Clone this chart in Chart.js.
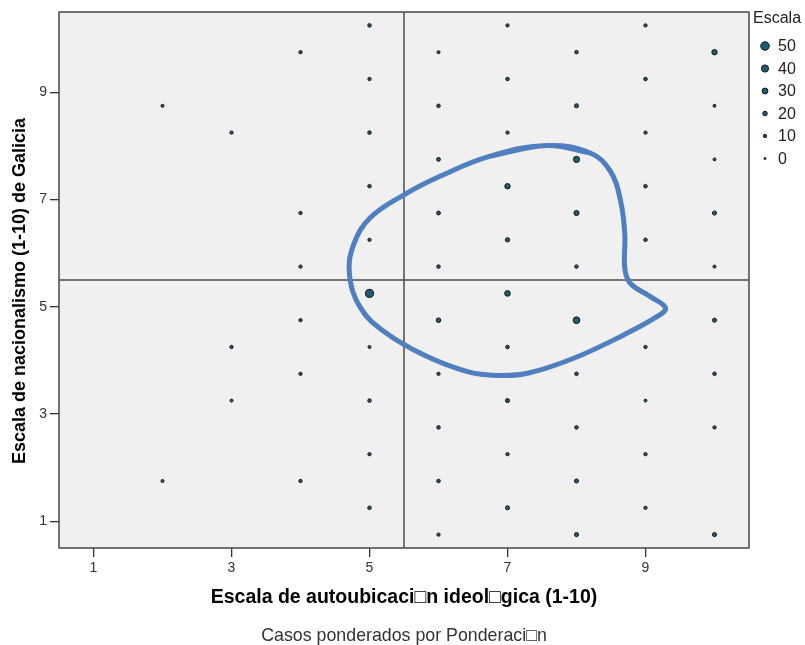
<!DOCTYPE html>
<html>
<head>
<meta charset="utf-8">
<script src="https://cdn.jsdelivr.net/npm/chart.js@4"></script>
<style>
  html, body { margin: 0; padding: 0; background: #ffffff; }
</style>
</head>
<body>
<canvas id="scatterChart" width="805" height="645"></canvas>
<script>
const xTicks = [1, 3, 5, 7, 9];
const yTicks = [1, 3, 5, 7, 9];
const refLineX = 5.5;
const refLineY = 5.5;

// x = autoubicacion ideologica, y = nacionalismo, n = weighted cases (bubble size)
const pointX = [
  2, 2,
  3, 3, 3,
  4, 4, 4, 4, 4, 4,
  5, 5, 5, 5, 5, 5, 5, 5, 5, 5,
  6, 6, 6, 6, 6, 6, 6, 6, 6, 6,
  7, 7, 7, 7, 7, 7, 7, 7, 7, 7,
  8, 8, 8, 8, 8, 8, 8, 8, 8, 8,
  9, 9, 9, 9, 9, 9, 9, 9, 9, 9,
  10, 10, 10, 10, 10, 10, 10, 10, 10
];
const pointY = [
  8.75, 1.75,
  8.25, 4.25, 3.25,
  9.75, 6.75, 5.75, 4.75, 3.75, 1.75,
  10.25, 9.25, 8.25, 7.25, 6.25, 5.25, 4.25, 3.25, 2.25, 1.25,
  9.75, 8.75, 7.75, 6.75, 5.75, 4.75, 3.75, 2.75, 1.75, 0.75,
  10.25, 9.25, 8.25, 7.25, 6.25, 5.25, 4.25, 3.25, 2.25, 1.25,
  9.75, 8.75, 7.75, 6.75, 5.75, 4.75, 3.75, 2.75, 1.75, 0.75,
  10.25, 9.25, 8.25, 7.25, 6.25, 5.25, 4.25, 3.25, 2.25, 1.25,
  9.75, 8.75, 7.75, 6.75, 5.75, 4.75, 3.75, 2.75, 0.75
];
const pointN = [
  8, 8,
  10, 10, 8,
  10, 10, 10, 10, 10, 10,
  12, 10, 12, 12, 10, 47, 8, 12, 10, 12,
  8, 12, 14, 14, 12, 20, 10, 12, 12, 10,
  10, 12, 10, 26, 18, 28, 12, 16, 10, 16,
  12, 16, 32, 24, 12, 36, 12, 12, 16, 16,
  10, 12, 10, 12, 12, 10, 10, 7, 10, 10,
  26, 7, 7, 16, 8, 16, 12, 10, 16
];

// closed density contour, traced clockwise from its top
const curveX = [7.58, 8.20, 8.49, 8.64, 8.70, 8.70, 8.78, 9.07, 9.29, 9.17, 8.69, 7.96,
  7.29, 6.85, 6.42, 5.79, 5.21, 4.87, 4.71, 4.77, 5.01, 5.50, 6.03, 6.75];
const curveY = [8.01, 7.87, 7.53, 6.97, 6.35, 5.72, 5.44, 5.19, 4.98, 4.82, 4.48, 4.04,
  3.76, 3.72, 3.79, 4.10, 4.54, 4.98, 5.60, 6.16, 6.66, 7.09, 7.44, 7.81];

const legendTitle = "Escala";
const legendCounts = [50, 40, 30, 20, 10, 0];

const xTitle = "Escala de autoubicaci\u25A1n ideol\u25A1gica (1-10)";
const yTitle = "Escala de nacionalismo (1-10) de Galicia";
const footnote = "Casos ponderados por Ponderaci\u25A1n";

const fontFamily = "'Liberation Sans', Arial, sans-serif";
const pointFill = "#1f5d74";
const pointEdge = "#151515";
const frameColor = "#474747";

function radiusFor(n) {
  return 1.0 + n * 0.065;
}

const points = pointX.map((x, i) => ({ x: x, y: pointY[i] }));

// wrap the loop one point past each end so the join stays smooth
const loop = curveX.map((x, i) => ({ x: x, y: curveY[i] }));
const curve = [loop[loop.length - 1], ...loop, loop[0], loop[1]];

// plot background and frame
const plotFrame = {
  id: "plotFrame",
  beforeDraw(chart) {
    const { ctx, chartArea: a } = chart;
    ctx.save();
    ctx.fillStyle = "#f0f0f0";
    ctx.fillRect(a.left, a.top, a.right - a.left, a.bottom - a.top);
    ctx.restore();
  },
  afterDraw(chart) {
    const { ctx, chartArea: a } = chart;
    ctx.save();
    ctx.strokeStyle = frameColor;
    ctx.lineWidth = 1.5;
    ctx.strokeRect(a.left, a.top, a.right - a.left, a.bottom - a.top);
    ctx.restore();
  }
};

// y axis title and footnote, placed as in the original
const extraText = {
  id: "extraText",
  afterDraw(chart) {
    const ctx = chart.ctx;
    const a = chart.chartArea;
    ctx.save();
    ctx.textAlign = "center";
    ctx.textBaseline = "middle";

    ctx.save();
    ctx.translate(20, (a.top + a.bottom) / 2 + 11);
    ctx.rotate(-Math.PI / 2);
    ctx.font = "bold 18px " + fontFamily;
    ctx.fillStyle = "#000";
    ctx.fillText(yTitle, 0, 0);
    ctx.restore();

    ctx.font = "17.8px " + fontFamily;
    ctx.fillStyle = "#333";
    ctx.fillText(footnote, (a.left + a.right) / 2, 636);
    ctx.restore();
  }
};

// bubble size legend on the right
const sizeLegend = {
  id: "sizeLegend",
  afterDraw(chart) {
    const ctx = chart.ctx;
    const left = chart.chartArea.right + 4;
    ctx.save();
    ctx.font = "16px " + fontFamily;
    ctx.textBaseline = "middle";
    ctx.fillStyle = "#222";
    ctx.fillText(legendTitle, left, 19);
    legendCounts.forEach((n, i) => {
      const y = 46 + i * 22.5;
      ctx.beginPath();
      ctx.arc(left + 12, y, radiusFor(n), 0, Math.PI * 2);
      ctx.fillStyle = pointFill;
      ctx.fill();
      ctx.lineWidth = 1;
      ctx.strokeStyle = pointEdge;
      ctx.stroke();
      ctx.fillStyle = "#222";
      ctx.fillText(String(n), left + 25, y + 1);
    });
    ctx.restore();
  }
};

const axisGrid = {
  drawOnChartArea: false,
  drawTicks: true,
  tickLength: 9,
  color: "#333",
  lineWidth: 1.3
};

new Chart(document.getElementById("scatterChart"), {
  type: "scatter",
  data: {
    datasets: [
      {
        label: "contorno",
        data: curve,
        showLine: true,
        tension: 0.4,
        borderColor: "#4f7fbf",
        borderWidth: 5,
        pointRadius: 0,
        fill: false
      },
      {
        label: "casos",
        data: points,
        backgroundColor: pointFill,
        borderColor: pointEdge,
        borderWidth: 1,
        pointRadius: pointN.map(radiusFor)
      },
      {
        label: "refX",
        data: [{ x: refLineX, y: 0.5 }, { x: refLineX, y: 10.5 }],
        showLine: true,
        borderColor: "#4d4d4d",
        borderWidth: 1.5,
        pointRadius: 0
      },
      {
        label: "refY",
        data: [{ x: 0.5, y: refLineY }, { x: 10.5, y: refLineY }],
        showLine: true,
        borderColor: "#4d4d4d",
        borderWidth: 1.5,
        pointRadius: 0
      }
    ]
  },
  options: {
    responsive: false,
    animation: false,
    layout: { padding: { left: 0, top: 12, right: 56, bottom: 0 } },
    plugins: {
      legend: { display: false },
      tooltip: { enabled: false },
      title: { display: false }
    },
    scales: {
      x: {
        type: "linear",
        min: 0.5,
        max: 10.5,
        afterBuildTicks: (scale) => { scale.ticks = xTicks.map((v) => ({ value: v })); },
        afterFit: (scale) => { scale.height = 97; },
        grid: axisGrid,
        border: { display: false },
        ticks: { color: "#333", padding: 3, font: { family: fontFamily, size: 14 } },
        title: {
          display: true,
          text: xTitle,
          color: "#000",
          font: { family: fontFamily, size: 19.5, weight: "bold" },
          padding: { top: 0, bottom: 35.3 }
        }
      },
      y: {
        type: "linear",
        min: 0.5,
        max: 10.5,
        afterBuildTicks: (scale) => { scale.ticks = yTicks.map((v) => ({ value: v })); },
        afterFit: (scale) => { scale.width = 59; },
        grid: axisGrid,
        border: { display: false },
        ticks: { color: "#333", padding: 3, font: { family: fontFamily, size: 14 } },
        title: { display: false }
      }
    }
  },
  plugins: [plotFrame, extraText, sizeLegend]
});
</script>
</body>
</html>
